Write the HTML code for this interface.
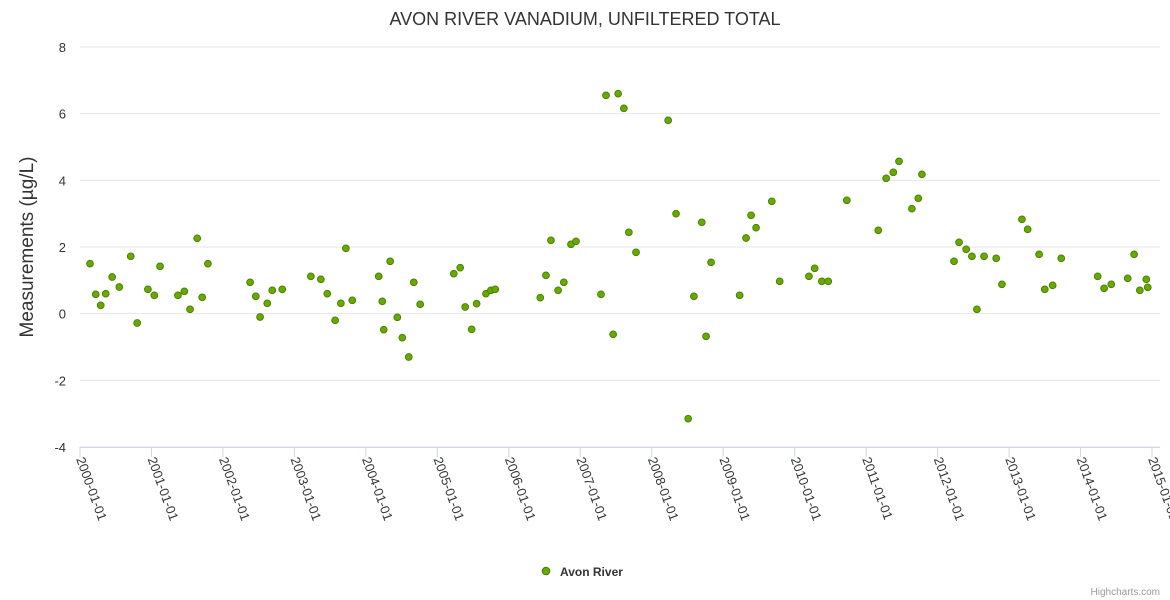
<!DOCTYPE html>
<html><head><meta charset="utf-8"><style>
html,body{margin:0;padding:0;background:#fff;}
svg{display:block;font-family:"Liberation Sans",sans-serif;}
</style></head><body>
<svg id="chart" width="1170" height="600" viewBox="0 0 1170 600">
<text x="585" y="25" text-anchor="middle" font-size="18" fill="#333">AVON RIVER VANADIUM, UNFILTERED TOTAL</text>
<text transform="translate(33,247) rotate(-90)" text-anchor="middle" font-size="19" fill="#333">Measurements (µg/L)</text>
<g id="grid"></g><g id="xaxis"></g><g id="pts"></g>
<g>
<circle cx="546" cy="571" r="3.8" fill="#66aa00" stroke="#4a7c00" stroke-width="1"/>
<text x="560" y="576" font-size="12" font-weight="bold" fill="#333">Avon River</text>
</g>
<text x="1160" y="595" text-anchor="end" font-size="10" fill="#999">Highcharts.com</text>
</svg>
<script>
const yTicks=[-4,-2,0,2,4,6,8];
const xTickYears=[2000,2001,2002,2003,2004,2005,2006,2007,2008,2009,2010,2011,2012,2013,2014,2015];
const dates=[0.14,0.22,0.29,0.36,0.45,0.55,0.71,0.80,0.95,1.04,1.12,1.37,1.46,1.54,1.64,1.71,1.79,2.38,2.46,2.52,2.62,2.69,2.83,3.23,3.37,3.46,3.57,3.65,3.72,3.81,4.18,4.23,4.25,4.34,4.44,4.51,4.60,4.67,4.76,5.23,5.32,5.39,5.48,5.55,5.68,5.75,5.81,6.44,6.52,6.59,6.69,6.77,6.87,6.94,7.29,7.36,7.46,7.53,7.61,7.68,7.78,8.23,8.34,8.51,8.59,8.70,8.76,8.83,9.23,9.32,9.39,9.46,9.68,9.79,10.20,10.28,10.38,10.47,10.73,11.17,11.28,11.38,11.46,11.64,11.73,11.78,12.23,12.30,12.40,12.48,12.55,12.65,12.82,12.90,13.18,13.26,13.42,13.50,13.61,13.73,14.24,14.33,14.43,14.66,14.75,14.83,14.92,14.94];
const values=[1.5,0.58,0.25,0.6,1.1,0.8,1.72,-0.28,0.73,0.55,1.42,0.55,0.67,0.13,2.26,0.49,1.5,0.94,0.52,-0.1,0.31,0.7,0.73,1.12,1.03,0.6,-0.2,0.31,1.96,0.4,1.12,0.37,-0.48,1.57,-0.11,-0.72,-1.3,0.94,0.28,1.2,1.38,0.2,-0.47,0.3,0.6,0.7,0.73,0.48,1.15,2.2,0.7,0.94,2.08,2.17,0.58,6.55,-0.62,6.6,6.16,2.44,1.84,5.8,3.0,-3.15,0.52,2.74,-0.68,1.54,0.55,2.27,2.95,2.58,3.37,0.97,1.12,1.36,0.97,0.97,3.4,2.5,4.06,4.24,4.57,3.15,3.46,4.18,1.57,2.14,1.93,1.72,0.13,1.72,1.66,0.88,2.83,2.53,1.78,0.73,0.85,1.66,1.12,0.76,0.88,1.06,1.78,0.7,1.03,0.79];
const NS="http://www.w3.org/2000/svg";
const x0=80,x1=1152,yTop=47,yBot=447;
function X(yr){return x0+(yr-2000)/15*(x1-x0);}
function Y(v){return yBot-(v+4)/12*(yBot-yTop);}
function mk(t,a,p){const e=document.createElementNS(NS,t);for(const k in a)e.setAttribute(k,a[k]);p.appendChild(e);return e;}
const grid=document.getElementById('grid');
yTicks.forEach(v=>{
  const l=mk('line',{x1:x0,x2:1160,y1:Y(v),y2:Y(v),stroke:'#e6e6e6','stroke-width':1},grid);
  
  
  const t=mk('text',{x:66,y:Y(v)+5,'text-anchor':'end','font-size':13,fill:'#333'},grid);
  t.textContent=v;
  
  
});
const xa=document.getElementById('xaxis');
const ax=mk('line',{x1:x0,x2:1160,y1:yBot+0.5,y2:yBot+0.5,stroke:'#ccd6eb'},xa);


xTickYears.forEach(yr=>{
  const x=X(yr);
  const tk=mk('line',{x1:x,x2:x,y1:yBot,y2:yBot+10,stroke:'#ccd6eb'},xa);
  
  
  const t=mk('text',{transform:`translate(${x-4},${yBot+12}) rotate(70)`,'font-size':13,fill:'#333'},xa);
  t.textContent=yr+'-01-01';
  
  
});
const pts=document.getElementById('pts');
dates.forEach((d,i)=>{
  const c=mk('circle',{cx:X(2000+d),cy:Y(values[i]),r:3.4,fill:'#66aa00',stroke:'#4a7c00','stroke-width':0.9},pts);
  
  
});
</script>
</body></html>
